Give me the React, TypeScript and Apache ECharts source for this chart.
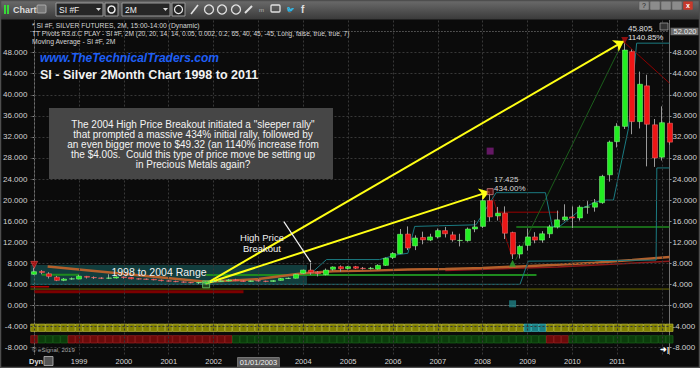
import React, { useEffect, useRef } from 'react';
import * as echarts from 'echarts';

const FONT = '"Liberation Sans", Arial, sans-serif';

// ---- 2-month silver futures bars, Jan 1998 .. Mar 2012 (index = bar number) ----
const opens = [5.9, 6.45, 6.0, 5.35, 4.75, 5.0, 5.0, 5.5, 5.3, 5.2, 5.15, 5.2, 5.4, 5.3, 5.05, 5.0, 4.95, 4.8, 4.65, 4.55, 4.45, 4.35, 4.3, 4.2, 4.5, 4.55, 4.65, 4.85, 4.65, 4.55, 4.7, 4.6, 4.55, 4.75, 5.1, 5.15, 6.1, 6.7, 6.25, 5.85, 6.85, 7.35, 7.0, 7.35, 7.05, 7.0, 6.9, 7.6, 9.1, 9.85, 13.55, 11.3, 12.9, 12.4, 13.0, 14.2, 13.4, 12.3, 12.3, 14.5, 15.0, 19.9, 17.0, 17.5, 13.85, 9.75, 11.4, 13.0, 12.4, 13.6, 14.9, 16.25, 16.8, 16.6, 18.65, 18.65, 19.5, 24.8, 31.1, 34.0, 48.2, 34.9, 41.7, 34.3, 28.15, 34.6];
const closes = [6.4, 6.25, 5.5, 4.75, 5.0, 5.05, 5.55, 5.35, 5.25, 5.15, 5.2, 5.4, 5.3, 5.05, 5.0, 4.95, 4.85, 4.7, 4.6, 4.5, 4.4, 4.3, 4.35, 4.45, 4.55, 4.65, 4.8, 4.7, 4.55, 4.65, 4.65, 4.55, 4.7, 5.1, 5.15, 5.9, 6.7, 6.25, 6.05, 6.7, 7.3, 6.95, 7.35, 7.05, 7.0, 7.05, 7.6, 8.95, 9.85, 13.5, 10.9, 12.8, 12.45, 13.0, 14.2, 13.6, 12.45, 12.35, 14.5, 14.9, 19.9, 16.8, 17.5, 13.7, 9.75, 11.2, 13.0, 12.4, 13.6, 14.9, 16.25, 16.8, 16.6, 18.65, 18.7, 19.5, 24.5, 31.0, 34.0, 48.5, 34.9, 42.0, 34.4, 28.0, 34.7, 31.0];
const lows = [5.8, 5.9, 5.1, 4.6, 4.6, 4.85, 4.95, 5.1, 5.0, 5.0, 5.0, 5.1, 5.05, 4.95, 4.9, 4.85, 4.75, 4.55, 4.5, 4.4, 4.3, 4.2, 4.05, 4.0, 4.35, 4.45, 4.55, 4.6, 4.45, 4.45, 4.5, 4.4, 4.45, 4.7, 5.0, 5.1, 5.9, 5.8, 5.5, 5.7, 6.6, 6.4, 6.8, 6.9, 6.8, 6.8, 6.8, 7.5, 8.8, 9.75, 10.5, 10.5, 11.6, 12.2, 12.7, 12.9, 12.1, 11.2, 12.1, 13.9, 14.7, 15.9, 16.1, 12.6, 8.8, 8.9, 10.4, 11.8, 11.9, 12.8, 14.6, 16.0, 14.7, 16.1, 17.4, 17.8, 19.3, 23.5, 30.0, 33.5, 32.5, 33.6, 26.4, 26.3, 27.5, 30.5];
const highs = [7.1, 6.7, 6.3, 5.6, 5.2, 5.3, 5.8, 5.6, 5.5, 5.35, 5.9, 5.5, 5.5, 5.4, 5.15, 5.1, 5.05, 4.9, 4.8, 4.7, 4.55, 4.45, 4.45, 4.6, 4.7, 4.8, 5.0, 5.05, 4.75, 4.75, 4.9, 4.7, 4.8, 5.2, 5.3, 6.0, 6.8, 8.1, 6.5, 7.0, 7.4, 7.6, 7.5, 7.5, 7.3, 7.3, 7.8, 9.1, 10.1, 14.5, 15.0, 13.3, 14.0, 13.6, 14.6, 14.9, 14.0, 13.6, 14.8, 16.2, 20.2, 21.6, 18.7, 18.8, 14.0, 11.5, 14.6, 13.9, 14.1, 15.3, 18.0, 19.2, 18.8, 19.0, 19.8, 20.2, 24.8, 31.3, 34.6, 49.8, 48.6, 44.4, 43.8, 35.4, 37.8, 35.0];

// ---- axes ----
const yearTickIdx = [6, 12, 18, 24, 30, 36, 42, 48, 54, 60, 66, 72, 78];
const yearLabels = ['1999', '2000', '2001', '2002', '01/01/2003', '2004', '2005', '2006', '2007', '2008', '2009', '2010', '2011'];
const gridXIdx = [0, 6, 12, 18, 24, 30, 36, 42, 48, 54, 60, 66, 72, 78, 84];
const priceTicks = [-8, -4, 0, 4, 8, 12, 16, 20, 24, 28, 32, 36, 40, 44, 48];

// ---- indicator overlays ([bar index, price]) ----
const maLine = [[1.8, 7.4], [23, 4.5], [30, 5.0], [36, 6.1], [40, 6.5], [45, 6.6], [50, 6.8], [55, 6.9], [60, 7.1], [65, 7.4], [70, 7.7], [75, 8.1], [80, 8.6], [85, 9.2]];
const ma2Line = [[55, 6.6], [70, 7.3], [85, 8.4]];
const pivotUpper = [[37.1, 6.15], [39.1, 8.7], [46.2, 8.7], [48.5, 9.6], [50, 9.9], [50.9, 15.0], [59.1, 15.3], [61.8, 21.4], [68.4, 21.4], [69.3, 15.0], [70.3, 15.0], [73.4, 18.5], [75.2, 19.7], [76.5, 20.0], [77.5, 20.0], [79.5, 33.6], [80.6, 49.8], [85, 49.8]];
const pivotLower = [[-0.5, 4.0], [65.0, 4.0], [66.1, 8.4], [83.2, 8.6], [83.3, 26.1], [85, 26.1]];
const oliveLine = [[-0.5, 3.1], [85, 3.1]];
const darkRedSupport = [[0, 2.6], [28, 2.6]];
const redShort = [[-0.5, 3.55], [2, 3.55]];
const greenSupportA = [[23, 5.75], [67.2, 5.75]];
const greenSupportB = [[1, 5.8], [6, 5.8]];
const greenSupportC = [[64.5, 14.9], [85, 14.9]];
const redResist = [[61.7, 17.7], [70.2, 17.7]];
const greenTrend = [[64.4, 8.6], [78.7, 49.9]];
const redTrendA = [[61.3, 20.7], [63.9, 9.3]];
const redTrendB = [[79, 49.9], [85, 42.2]];
const rangeBox = [[-0.5, 7.65], [36.5, 4.0]];

const arrowStart = [23, 4.15];
const arrowEnds = [[78.9, 50.2], [60.9, 21.6]];
const breakoutPointer = [[33.4, 15.9], [37, 8.2]];

const tagValues = [49.82, 31.016, 26.145, 9.207];
const topPrice = 52.022;

// bottom indicator states per bar
const yellowBand = ['YYYYYYYYYY', 'YYYYYYYYYY', 'YYYYYYYYYY', 'YYYYYYYYYY', 'YYYYYYYYYY', 'YYYYYYYYYY', 'YYYYYYCCCY', 'YYYYYYYYYY', 'YYYYYY'].join('');
const trendBand = ['RGGGGRRRRR', 'RRRRRRRRRR', 'RRRRRRRGGG', 'GGGGGGGGGG', 'GGGGGGGGGG', 'GGGGGGGGGG', 'GGGGGGGGGR', 'RRGGGGGGGG', 'GGGGGG'].join('');

const GREEN = '#22ee22';
const RED = '#ee1616';

function txt(x: number, y: number, text: string, o: any = {}) {
  return {
    type: 'text', x, y, z: o.z || 110, silent: true,
    style: {
      text, fill: o.fill || '#e6e6e6', fontSize: o.size || 8, fontFamily: o.family || FONT,
      fontWeight: o.weight || 'normal', fontStyle: o.italic ? 'italic' : 'normal',
      align: o.align || 'left', verticalAlign: o.va || 'middle', lineHeight: o.lh,
    },
  };
}

function buildOption() {
  const idx = opens.map((_, i) => i);
  const wickData = idx.map((i) => [i, opens[i], closes[i], lows[i], highs[i]]);
  const bodyData = idx.map((i) => [i, opens[i], closes[i], Math.min(opens[i], closes[i]), Math.max(opens[i], closes[i])]);

  const lineS = (name: string, data: number[][], color: string, width: number, z = 3, extra: any = {}) => ({
    type: 'line', name, data, symbol: 'none', showSymbol: false, silent: true, z,
    lineStyle: { color, width, ...extra }, clip: true,
  });

  const bandColor: any = {
    Y: ['#9f9f00', '#c4c440'], C: ['#1d9ba0', '#45c4c8'], G: ['#0b4a0b', '#1d641d'], R: ['#840a0a', '#a02222'],
  };
  const bandSeries = (states: string, y: number) => ({
    type: 'scatter', silent: true, z: 4, symbol: 'rect', symbolSize: [7, 7.4], clip: true,
    data: states.split('').map((s, i) => ({
      value: [i, y],
      itemStyle: { color: bandColor[s][0], borderColor: bandColor[s][1], borderWidth: 0.8 },
    })),
  });

  const tagLabel = (bg: string, fg: string) => ({
    show: true, position: 'end', distance: 1, backgroundColor: bg, color: fg, fontSize: 7.5,
    fontFamily: FONT, padding: [0, 2, 0, 3], lineHeight: 7.5, formatter: (p: any) => Number(p.value).toFixed(3),
  });
  const tagColors = [['#16d3da', '#063c3c'], ['#b4b4b4', '#1c1c1c'], ['#16d3da', '#063c3c'], ['#e2701e', '#ffffff']];

  const graphic: any[] = [
    // toolbar
    { type: 'rect', z: 100, silent: true, shape: { x: 0, y: 0, width: 700, height: 19 },
      style: { fill: new echarts.graphic.LinearGradient(0, 0, 0, 1, [{ offset: 0, color: '#6c6c6c' }, { offset: 1, color: '#3b3b3b' }]) } },
    { type: 'rect', z: 100, silent: true, shape: { x: 0, y: 19, width: 700, height: 1 }, style: { fill: '#222' } },
    { type: 'rect', z: 101, silent: true, shape: { x: 4, y: 5, width: 2, height: 9 }, style: { fill: '#38d838' } },
    { type: 'rect', z: 101, silent: true, shape: { x: 7, y: 5, width: 2, height: 9 }, style: { fill: '#38d838' } },
    txt(13, 10, 'Chart', { size: 9, weight: 'bold', fill: '#dcdcdc' }),
    { type: 'rect', z: 101, silent: true, shape: { x: 37, y: 5, width: 9, height: 8, r: 1 }, style: { fill: '#777', stroke: '#bbb', lineWidth: 0.8 } },
    { type: 'rect', z: 101, silent: true, shape: { x: 56, y: 3, width: 47, height: 13 }, style: { fill: '#262626', stroke: '#9a9a9a', lineWidth: 1 } },
    txt(59, 9.5, 'SI #F', { size: 8.5, fill: '#eeeeee' }),
    { type: 'polygon', z: 102, silent: true, shape: { points: [[96, 8], [101, 8], [98.5, 11]] }, style: { fill: '#dddddd' } },
    { type: 'rect', z: 101, silent: true, shape: { x: 105, y: 3, width: 13, height: 13 }, style: { fill: '#262626', stroke: '#9a9a9a', lineWidth: 1 } },
    { type: 'circle', z: 102, silent: true, shape: { cx: 111.5, cy: 9.5, r: 3.5 }, style: { fill: 'none', stroke: '#eeeeee', lineWidth: 1.5 } },
    { type: 'rect', z: 101, silent: true, shape: { x: 122, y: 3, width: 48, height: 13 }, style: { fill: '#262626', stroke: '#9a9a9a', lineWidth: 1 } },
    txt(125, 9.5, '2M', { size: 8.5, fill: '#eeeeee' }),
    { type: 'polygon', z: 102, silent: true, shape: { points: [[163, 8], [168, 8], [165.5, 11]] }, style: { fill: '#dddddd' } },
    { type: 'rect', z: 101, silent: true, shape: { x: 172, y: 3, width: 13, height: 13 }, style: { fill: '#262626', stroke: '#9a9a9a', lineWidth: 1 } },
    { type: 'circle', z: 102, silent: true, shape: { cx: 178.5, cy: 9.5, r: 4 }, style: { fill: 'none', stroke: '#eeeeee', lineWidth: 1.2 } },
    { type: 'line', z: 102, silent: true, shape: { x1: 191, y1: 14, x2: 198, y2: 5 }, style: { stroke: '#e0e0e0', lineWidth: 1.6 } },
    { type: 'circle', z: 102, silent: true, shape: { cx: 209, cy: 9.5, r: 4.5 }, style: { fill: 'none', stroke: '#e0e0e0', lineWidth: 1.3 } },
    { type: 'circle', z: 102, silent: true, shape: { cx: 222, cy: 9.5, r: 4.5 }, style: { fill: 'none', stroke: '#e0e0e0', lineWidth: 1.3 } },
    { type: 'circle', z: 102, silent: true, shape: { cx: 236, cy: 9.5, r: 4.5 }, style: { fill: 'none', stroke: '#e0e0e0', lineWidth: 1.3 } },
    { type: 'line', z: 102, silent: true, shape: { x1: 245, y1: 13, x2: 252, y2: 6 }, style: { stroke: '#e0e0e0', lineWidth: 2 } },
    txt(259, 9.5, 'm', { size: 6, fill: '#bbbbbb' }),
    { type: 'rect', z: 102, silent: true, shape: { x: 271, y: 5, width: 9, height: 7, r: 1 }, style: { fill: 'none', stroke: '#e0e0e0', lineWidth: 1.3 } },
    txt(286, 9.5, '🐦', { size: 7, fill: '#e0e0e0' }),
    txt(301, 9.5, 'f', { size: 10, weight: 'bold', fill: '#e0e0e0' }),
    // window buttons
    ...[639, 650, 661, 672, 683].map((x, k) => ({
      type: 'rect', z: 101, silent: true, shape: { x, y: 1, width: 10, height: 9, r: 1 },
      style: { fill: k === 4 ? '#c83a2c' : '#8c8c8c', stroke: '#555', lineWidth: 0.5 },
    })),
    txt(644, 5.5, '?', { size: 7, align: 'center', fill: '#222' }),
    txt(688, 5.5, 'x', { size: 7, align: 'center', fill: '#fff', weight: 'bold' }),
    { type: 'rect', z: 101, silent: true, shape: { x: 660, y: 23, width: 8, height: 7 }, style: { fill: '#333', stroke: '#999', lineWidth: 0.8 } },
    // legend lines
    txt(32, 25, '* SI #F, SILVER FUTURES, 2M, 15:00-14:00 (Dynamic)', { size: 6.8, fill: '#d6d6d6' }),
    txt(32, 33.7, 'TT Pivots R3.d.C PLAY - SI #F, 2M (20, 20, 14, 14, 0.05, 0.002, 0.2, 65, 40, 45, -45, Long, false, true, true, 7)', { size: 6.6, fill: '#d6d6d6' }),
    txt(32, 41.7, 'Moving Average - SI #F, 2M', { size: 6.8, fill: '#d6d6d6' }),
    // titles
    txt(40, 58, 'www.TheTechnicalTraders.com', { size: 12, weight: 'bold', italic: true, fill: '#1f5ff5' }),
    txt(40, 75, 'SI - Silver 2Month Chart 1998 to 2011', { size: 12.5, weight: 'bold', fill: '#f2f2f2' }),
    // commentary box
    { type: 'rect', z: 100, silent: true, shape: { x: 49, y: 108, width: 284, height: 71 }, style: { fill: '#464646' } },
    txt(193, 119, 'The 2004 High Price Breakout initiated a "sleeper rally"\nthat prompted a massive 434% initial rally, followed by\nan even bigger move to $49.32 (an 1140% increase from\nthe $4.00s.  Could this type of price move be setting up\nin Precious Metals again?', { size: 10, lh: 10.1, align: 'center', va: 'top', fill: '#f4f4f4' }),
    // annotations
    txt(159, 271.5, '1998 to 2004 Range', { size: 10.5, align: 'center', fill: '#f0f0f0' }),
    txt(262, 242.5, 'High Price\nBreakout', { size: 9.5, lh: 11, align: 'center', fill: '#f0f0f0' }),
    txt(494, 179, '17.425', { size: 8, fill: '#d6d6d6' }),
    txt(494, 188, '434.00%', { size: 8, fill: '#d6d6d6' }),
    txt(628, 28, '45.805', { size: 8, fill: '#e0e0e0' }),
    txt(628, 37.5, '1140.85%', { size: 8, fill: '#e0e0e0' }),
    // bottom bits
    txt(32, 349.5, '© eSignal, 2019', { size: 6, fill: '#a8a8a8' }),
    txt(29, 361.5, 'Dyn', { size: 7.5, weight: 'bold', fill: '#dddddd' }),
    { type: 'rect', z: 101, silent: true, shape: { x: 44, y: 356.5, width: 9, height: 9 }, style: { fill: '#555', stroke: '#bbb', lineWidth: 0.8 } },
    txt(660, 349.5, '➜|', { size: 7.5, weight: 'bold', fill: '#ffffff' }),
    // frame
    { type: 'rect', z: 120, silent: true, shape: { x: 0.5, y: 0.5, width: 699, height: 367 }, style: { fill: 'none', stroke: '#4e4e4e', lineWidth: 1.5 } },
  ];

  const yAxisBase = (position: 'left' | 'right') => ({
    type: 'value', position, min: -9.33, max: 54.2,
    axisLine: { show: true, lineStyle: { color: '#707070' } },
    axisTick: { show: true, length: 2, customValues: priceTicks, lineStyle: { color: '#909090' } },
    splitLine: { show: false },
    axisLabel: {
      customValues: priceTicks, formatter: (v: number) => v.toFixed(3), color: '#d2d2d2',
      fontSize: 8, lineHeight: 8, fontFamily: FONT, margin: 3,
    },
  });

  return {
    animation: false,
    backgroundColor: '#0b0b0b',
    grid: { left: 29.75, right: 29, top: 20, bottom: 13 },
    xAxis: {
      type: 'value', min: -0.5, max: 85,
      axisLine: { show: true, lineStyle: { color: '#707070' } },
      axisTick: { show: false },
      splitLine: { show: false },
      axisLabel: {
        customValues: yearTickIdx, color: '#d8d8d8', fontSize: 7.5, fontFamily: FONT, margin: 3,
        formatter: (v: number) => {
          const k = yearTickIdx.indexOf(Math.round(v));
          if (k < 0) return '';
          return yearLabels[k].indexOf('/') >= 0 ? `{hl|${yearLabels[k]}}` : yearLabels[k];
        },
        rich: { hl: { backgroundColor: '#5c5c5c', color: '#f0f0f0', fontSize: 7.5, padding: [1, 2], borderColor: '#8a8a8a', borderWidth: 0.5, fontFamily: FONT } },
      },
    },
    yAxis: [yAxisBase('left'), yAxisBase('right')],
    graphic,
    series: [
      {
        type: 'line', name: 'grid', data: [], z: 1, silent: true,
        markLine: {
          silent: true, symbol: ['none', 'none'], animation: false, label: { show: false },
          lineStyle: { color: '#383838', type: [2, 2], width: 1 },
          data: [...gridXIdx.map((v) => ({ xAxis: v })), ...priceTicks.map((v) => ({ yAxis: v }))],
        },
        markArea: {
          silent: true, itemStyle: { color: 'rgba(26,112,112,0.5)' },
          data: [[{ coord: rangeBox[0] }, { coord: rangeBox[1] }]],
        },
      },
      lineS('olive', oliveLine, '#6e6e00', 1),
      lineS('darkRedSupport', darkRedSupport, '#7c0000', 3),
      lineS('redShort', redShort, '#b00000', 1.5),
      lineS('greenA', greenSupportA, '#1e8a1e', 2),
      lineS('greenB', greenSupportB, '#1e8a1e', 2),
      lineS('greenC', greenSupportC, '#1e8a1e', 1.5),
      lineS('redResist', redResist, '#9a0000', 1),
      lineS('greenTrend', greenTrend, '#1b5e1b', 1),
      lineS('redTrendA', redTrendA, '#8b0000', 1),
      lineS('redTrendB', redTrendB, '#8b0000', 1),
      lineS('ma2', ma2Line, '#8f1a1a', 1.5),
      lineS('ma', maLine, '#b4602c', 2.5),
      lineS('pivotUpper', pivotUpper, '#1b7b82', 1),
      lineS('pivotLower', pivotLower, '#1b7b82', 1),
      {
        type: 'candlestick', name: 'wicks', data: wickData, barWidth: 1, z: 5, silent: true, clip: true,
        dimensions: ['idx', 'open', 'close', 'lowest', 'highest'],
        encode: { x: 'idx', y: ['open', 'close', 'lowest', 'highest'] },
        itemStyle: { color: '#9a9a9a', color0: '#9a9a9a', borderColor: '#9a9a9a', borderColor0: '#9a9a9a', borderWidth: 1 },
      },
      {
        type: 'candlestick', name: 'bodies', data: bodyData, barWidth: 5.5, z: 6, silent: true, clip: true,
        dimensions: ['idx', 'open', 'close', 'lowest', 'highest'],
        encode: { x: 'idx', y: ['open', 'close', 'lowest', 'highest'] },
        itemStyle: { color: GREEN, color0: RED, borderColor: '#8cff8c', borderColor0: '#ff7070', borderWidth: 0.5 },
      },
      bandSeries(yellowBand, -4.25),
      bandSeries(trendBand, -6.45),
      {
        type: 'scatter', silent: true, z: 7, clip: false,
        data: [
          { value: [0, 7.7], symbol: 'triangle', symbolRotate: 180, symbolSize: 7, itemStyle: { color: '#c01010', borderColor: '#ff6060', borderWidth: 0.6 } },
          { value: [64, 8.0], symbol: 'triangle', symbolSize: 7, itemStyle: { color: '#2ea82e' } },
          { value: [23, 4.0], symbol: 'rect', symbolSize: 7, itemStyle: { color: 'rgba(70,170,70,0.45)', borderColor: '#6ad06a', borderWidth: 1 } },
          { value: [61, 21.6], symbol: 'rect', symbolSize: 6, itemStyle: { color: '#6a1010', borderColor: '#d08080', borderWidth: 1 } },
          { value: [79, 50.3], symbol: 'triangle', symbolRotate: 180, symbolSize: 7, itemStyle: { color: '#b01010' } },
          { value: [61, 29.3], symbol: 'rect', symbolSize: 7, itemStyle: { color: '#7a1c7a' } },
          { value: [64, 0.3], symbol: 'rect', symbolSize: 7, itemStyle: { color: '#1e8084' } },
        ],
      },
      {
        type: 'line', name: 'arrows', data: [], z: 8, silent: true,
        markLine: {
          silent: true, symbol: ['none', 'arrow'], symbolSize: 10, label: { show: false },
          lineStyle: { color: '#ffff14', width: 2, type: 'solid' },
          data: [
            ...arrowEnds.map((e) => [{ coord: arrowStart }, { coord: e }]),
            [{ coord: breakoutPointer[0], symbol: 'none', lineStyle: { color: '#f4f4f4', width: 1.2 } }, { coord: breakoutPointer[1], symbol: 'none' }],
          ],
        },
      },
      {
        type: 'line', name: 'tags', data: [], z: 9, silent: true,
        markLine: {
          silent: true, symbol: ['none', 'none'],
          data: [
            { yAxis: topPrice, lineStyle: { color: '#8a8a8a', type: [1, 2], width: 1 }, label: tagLabel('#6e6e6e', '#eaeaea') },
            { yAxis: topPrice, lineStyle: { opacity: 0 }, label: { ...tagLabel('#8a8a8a', '#f2f2f2'), position: 'start' } },
            ...tagValues.map((v, k) => ({ yAxis: v, lineStyle: { opacity: 0 }, label: tagLabel(tagColors[k][0], tagColors[k][1]) })),
          ],
        },
      },
    ],
  };
}

export default function App() {
  const ref = useRef<HTMLDivElement>(null);
  useEffect(() => {
    if (!ref.current) return;
    const chart = echarts.init(ref.current, undefined, { renderer: 'svg' });
    chart.setOption(buildOption() as any);
    return () => chart.dispose();
  }, []);
  return <div ref={ref} style={{ position: 'fixed', left: 0, top: 0, width: 700, height: 368 }} />;
}
